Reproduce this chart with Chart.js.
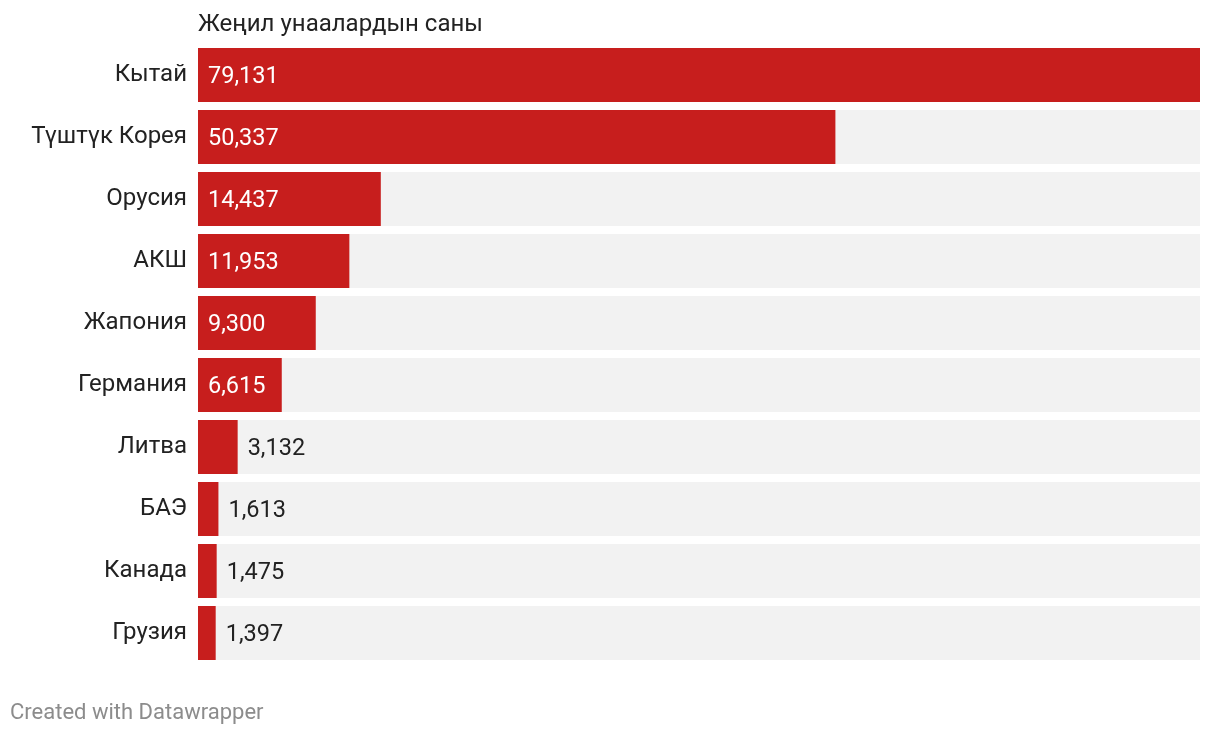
<!DOCTYPE html>
<html>
<head>
<meta charset="utf-8">
<title>Жеңил унаалардын саны</title>
<script src="https://cdn.jsdelivr.net/npm/chart.js"></script>
<style>
  html, body { margin: 0; padding: 0; background: #fff; }
  #wrap { position: relative; width: 1220px; height: 736px; }
  #footer { position: absolute; left: 10px; top: 699px; font: 22px Roboto, sans-serif; color: #8c8c8c; }
</style>
</head>
<body>
<div id="wrap">
  <canvas id="cars" width="1220" height="736"></canvas>
  <div id="footer">Created with Datawrapper</div>
</div>
<script>
const countries = ['Кытай', 'Түштүк Корея', 'Орусия', 'АКШ', 'Жапония', 'Германия', 'Литва', 'БАЭ', 'Канада', 'Грузия'];
const cars = [79131, 50337, 14437, 11953, 9300, 6615, 3132, 1613, 1475, 1397];
const title = 'Жеңил унаалардын саны';

const maxVal = Math.max(...cars);
const fullBars = countries.map(() => maxVal);
const fmt = v => v.toLocaleString('en-US');

const red = '#c71e1d';
const labelFont = '23.5px Roboto, sans-serif';

// title above the plot + value labels on the bars
const extras = {
  id: 'extras',
  afterDatasetsDraw(chart) {
    const ctx = chart.ctx;
    const area = chart.chartArea;
    ctx.save();
    ctx.font = '24px Roboto, sans-serif';
    ctx.fillStyle = '#222';
    ctx.textBaseline = 'middle';
    ctx.textAlign = 'left';
    ctx.fillText(title, area.left, 25);

    ctx.font = labelFont;
    const meta = chart.getDatasetMeta(0);
    meta.data.forEach((bar, i) => {
      const txt = fmt(cars[i]);
      const w = ctx.measureText(txt).width;
      const barW = bar.x - bar.base;
      if (barW > w + 20) {
        ctx.fillStyle = '#fff';
        ctx.fillText(txt, bar.base + 10, bar.y + 2);
      } else {
        ctx.fillStyle = '#222';
        ctx.fillText(txt, bar.x + 10, bar.y + 2);
      }
    });
    ctx.restore();
  }
};

new Chart(document.getElementById('cars'), {
  type: 'bar',
  data: {
    labels: countries,
    datasets: [
      { data: cars, backgroundColor: red, grouped: false, categoryPercentage: 0.871, barPercentage: 1 },
      { data: fullBars, backgroundColor: '#f2f2f2', grouped: false, categoryPercentage: 0.871, barPercentage: 1 }
    ]
  },
  options: {
    indexAxis: 'y',
    responsive: false,
    animation: false,
    layout: { padding: { top: 44, bottom: 72, right: 20, left: 0 } },
    plugins: { legend: { display: false }, tooltip: { enabled: false } },
    scales: {
      x: { display: false, min: 0, max: maxVal },
      y: {
        grid: { display: false, drawTicks: false },
        border: { display: false },
        ticks: { color: '#222', font: { family: 'Roboto', size: 24 }, padding: 11 },
        afterFit(scale) { scale.width = 198; }
      }
    }
  },
  plugins: [extras]
});
</script>
</body>
</html>
